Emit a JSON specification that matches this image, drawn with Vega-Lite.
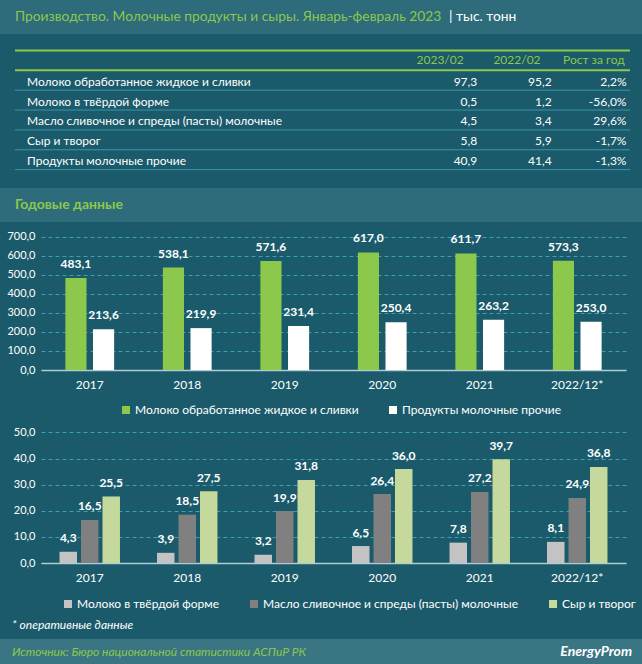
{
  "$schema": "https://vega.github.io/schema/vega-lite/v6.json",
  "background": "#1b5a6a",
  "padding": 0,
  "spacing": 0,
  "resolve": {"scale": {"color": "independent", "xOffset": "independent", "x": "independent", "y": "independent"}, "legend": {"color": "independent"}},
  "config": {
    "font": "Lato, 'Liberation Sans', sans-serif",
    "view": {"stroke": null},
    "locale": {"number": {"decimal": ",", "thousands": " ", "grouping": [3], "currency": ["", ""], "minus": "-"}},
    "axis": {"labelColor": "#ffffff", "title": null}
  },
  "datasets": {
    "table": [
      {"product": "Молоко обработанное жидкое и сливки", "v2023": 97.3, "v2022": 95.2, "growth": 0.022},
      {"product": "Молоко в твёрдой форме", "v2023": 0.5, "v2022": 1.2, "growth": -0.56},
      {"product": "Масло сливочное и спреды (пасты) молочные", "v2023": 4.5, "v2022": 3.4, "growth": 0.296},
      {"product": "Сыр и творог", "v2023": 5.8, "v2022": 5.9, "growth": -0.017},
      {"product": "Продукты молочные прочие", "v2023": 40.9, "v2022": 41.4, "growth": -0.013}
    ],
    "annual1": [
      {"year": "2017", "product": "Молоко обработанное жидкое и сливки", "value": 483.1},
      {"year": "2017", "product": "Продукты молочные прочие", "value": 213.6},
      {"year": "2018", "product": "Молоко обработанное жидкое и сливки", "value": 538.1},
      {"year": "2018", "product": "Продукты молочные прочие", "value": 219.9},
      {"year": "2019", "product": "Молоко обработанное жидкое и сливки", "value": 571.6},
      {"year": "2019", "product": "Продукты молочные прочие", "value": 231.4},
      {"year": "2020", "product": "Молоко обработанное жидкое и сливки", "value": 617.0},
      {"year": "2020", "product": "Продукты молочные прочие", "value": 250.4},
      {"year": "2021", "product": "Молоко обработанное жидкое и сливки", "value": 611.7},
      {"year": "2021", "product": "Продукты молочные прочие", "value": 263.2},
      {"year": "2022/12*", "product": "Молоко обработанное жидкое и сливки", "value": 573.3},
      {"year": "2022/12*", "product": "Продукты молочные прочие", "value": 253.0}
    ],
    "annual2": [
      {"year": "2017", "product": "Молоко в твёрдой форме", "value": 4.3},
      {"year": "2017", "product": "Масло сливочное и спреды (пасты) молочные", "value": 16.5},
      {"year": "2017", "product": "Сыр и творог", "value": 25.5},
      {"year": "2018", "product": "Молоко в твёрдой форме", "value": 3.9},
      {"year": "2018", "product": "Масло сливочное и спреды (пасты) молочные", "value": 18.5},
      {"year": "2018", "product": "Сыр и творог", "value": 27.5},
      {"year": "2019", "product": "Молоко в твёрдой форме", "value": 3.2},
      {"year": "2019", "product": "Масло сливочное и спреды (пасты) молочные", "value": 19.9},
      {"year": "2019", "product": "Сыр и творог", "value": 31.8},
      {"year": "2020", "product": "Молоко в твёрдой форме", "value": 6.5},
      {"year": "2020", "product": "Масло сливочное и спреды (пасты) молочные", "value": 26.4},
      {"year": "2020", "product": "Сыр и творог", "value": 36.0},
      {"year": "2021", "product": "Молоко в твёрдой форме", "value": 7.8},
      {"year": "2021", "product": "Масло сливочное и спреды (пасты) молочные", "value": 27.2},
      {"year": "2021", "product": "Сыр и творог", "value": 39.7},
      {"year": "2022/12*", "product": "Молоко в твёрдой форме", "value": 8.1},
      {"year": "2022/12*", "product": "Масло сливочное и спреды (пасты) молочные", "value": 24.9},
      {"year": "2022/12*", "product": "Сыр и творог", "value": 36.8}
    ]
  },
  "vconcat": [
    {
      "width": 642, "height": 34,
      "view": {"fill": "#2e6b7b"},
      "data": {"values": [
        {"part": "title", "t": "Производство. Молочные продукты и сыры. Январь-февраль 2023"},
        {"part": "unit", "t": "| тыс. тонн"}
      ]},
      "mark": {"type": "text", "align": "left", "baseline": "middle", "fontSize": 13.8},
      "encoding": {
        "x": {"field": "part", "type": "nominal", "scale": {"type": "point", "domain": ["title", "unit"], "range": [15, 449], "padding": 0}, "axis": null},
        "color": {"field": "part", "type": "nominal", "scale": {"domain": ["title", "unit"], "range": ["#8cc84b", "#ffffff"]}, "legend": null},
        "text": {"field": "t"}
      }
    },
    {
      "width": 642, "height": 154,
      "data": {"name": "table"},
      "layer": [
        {
          "data": {"values": [{"h": "header"}]},
          "mark": {"type": "rule", "color": "#8cc84b", "strokeWidth": 2},
          "encoding": {
            "y": {"field": "h", "type": "nominal", "bandPosition": 0,
              "scale": {"type": "band", "domain": ["header", "Молоко обработанное жидкое и сливки", "Молоко в твёрдой форме", "Масло сливочное и спреды (пасты) молочные", "Сыр и творог", "Продукты молочные прочие"], "paddingInner": 0, "paddingOuter": 0.879, "align": 0.473},
              "axis": null},
            "x": {"datum": "label", "type": "nominal", "bandPosition": 0,
              "scale": {"type": "band", "domain": ["label", "a", "b", "c", "d", "2023/02", "2022/02", "growth"], "range": [15, 630], "paddingInner": 0, "paddingOuter": 0}, "axis": null},
            "x2": {"datum": "growth", "bandPosition": 1}
          }
        },
        {
          "data": {"values": [{"h": "header"}]},
          "mark": {"type": "rule", "color": "#8cc84b", "strokeWidth": 2},
          "encoding": {
            "y": {"field": "h", "type": "nominal", "bandPosition": 1, "axis": null},
            "x": {"datum": "label", "type": "nominal", "bandPosition": 0, "axis": null},
            "x2": {"datum": "growth", "bandPosition": 1}
          }
        },
        {
          "mark": {"type": "rule", "color": "#3a96a7", "strokeWidth": 1},
          "encoding": {
            "y": {"field": "product", "type": "nominal", "bandPosition": 1, "axis": null},
            "x": {"datum": "label", "type": "nominal", "bandPosition": 0, "axis": null},
            "x2": {"datum": "growth", "bandPosition": 1}
          }
        },
        {
          "mark": {"type": "text", "align": "left", "baseline": "middle", "fontSize": 12, "color": "#ffffff", "dx": 12, "dy": 1.5},
          "encoding": {
            "y": {"field": "product", "type": "nominal", "axis": null},
            "x": {"datum": "label", "type": "nominal", "bandPosition": 0, "axis": null},
            "text": {"field": "product"}
          }
        },
        {
          "mark": {"type": "text", "align": "right", "baseline": "middle", "fontSize": 12, "color": "#ffffff", "dx": 1, "dy": 1.5},
          "encoding": {
            "y": {"field": "product", "type": "nominal", "axis": null},
            "x": {"datum": "2023/02", "type": "nominal", "bandPosition": 1, "axis": null},
            "text": {"field": "v2023", "type": "quantitative", "format": ".1f"}
          }
        },
        {
          "mark": {"type": "text", "align": "right", "baseline": "middle", "fontSize": 12, "color": "#ffffff", "dx": -1.5, "dy": 1.5},
          "encoding": {
            "y": {"field": "product", "type": "nominal", "axis": null},
            "x": {"datum": "2022/02", "type": "nominal", "bandPosition": 1, "axis": null},
            "text": {"field": "v2022", "type": "quantitative", "format": ".1f"}
          }
        },
        {
          "mark": {"type": "text", "align": "right", "baseline": "middle", "fontSize": 12, "color": "#ffffff", "dx": -3.5, "dy": 1.5},
          "encoding": {
            "y": {"field": "product", "type": "nominal", "axis": null},
            "x": {"datum": "growth", "type": "nominal", "bandPosition": 1, "axis": null},
            "text": {"field": "growth", "type": "quantitative", "format": ".1%"}
          }
        },
        {
          "data": {"values": [
            {"h": "header", "c": "2023/02", "label": "2023/02"},
            {"h": "header", "c": "2022/02", "label": "2022/02"},
            {"h": "header", "c": "growth", "label": "Рост за год"}
          ]},
          "mark": {"type": "text", "align": "center", "baseline": "middle", "fontSize": 12, "color": "#8cc84b", "dx": 2.3},
          "encoding": {
            "y": {"field": "h", "type": "nominal", "axis": null},
            "x": {"field": "c", "type": "nominal", "bandPosition": 0.5, "axis": null},
            "text": {"field": "label"}
          }
        }
      ]
    },
    {
      "width": 642, "height": 34,
      "view": {"fill": "#2e6b7b"},
      "data": {"values": [{"t": "Годовые данные"}]},
      "mark": {"type": "text", "align": "left", "baseline": "middle", "fontSize": 14, "fontWeight": "bold", "color": "#8cc84b"},
      "encoding": {
        "x": {"field": "t", "type": "nominal", "scale": {"type": "point", "range": [15, 15], "padding": 0}, "axis": null},
        "text": {"field": "t"}
      }
    },
    {
      "width": 626, "height": 148,
      "data": {"name": "annual1"},
      "encoding": {
        "x": {"field": "year", "type": "nominal", "sort": null, "scale": {"range": [41, 626], "paddingInner": 0.5, "paddingOuter": 0.25},
          "axis": {"labelAngle": 0, "labelFontSize": 12, "labelPadding": 9, "ticks": false, "domain": true, "domainColor": "#b0ccd4", "domainWidth": 1.5, "title": null, "labelColor": "#ffffff"}},
        "xOffset": {"field": "product", "type": "nominal", "scale": {"domain": ["Молоко обработанное жидкое и сливки", "Продукты молочные прочие"], "paddingInner": 0.235, "paddingOuter": 0}},
        "y": {"field": "value", "type": "quantitative", "scale": {"domain": [0, 777], "nice": false},
          "axis": {"values": [0, 100, 200, 300, 400, 500, 600, 700], "format": ".1f", "grid": true, "gridColor": "#3a9fb0", "gridDash": [4, 3], "domain": false, "ticks": false, "labelPadding": -35, "labelFontSize": 11, "labelColor": "#ffffff", "minExtent": 0, "maxExtent": 0, "title": null}}
      },
      "layer": [
        {
          "mark": {"type": "bar"},
          "encoding": {
            "color": {"field": "product", "type": "nominal", "scale": {"domain": ["Молоко обработанное жидкое и сливки", "Продукты молочные прочие"], "range": ["#8cc84b", "#ffffff"]},
              "legend": {"orient": "none", "legendX": 120, "legendY": 182, "direction": "horizontal", "title": null, "symbolType": "square", "symbolSize": 64, "symbolStrokeWidth": 0, "labelColor": "#ffffff", "labelFontSize": 12, "labelLimit": 400, "columnPadding": 28, "labelOffset": 3}}
          }
        },
        {
          "mark": {"type": "text", "baseline": "middle", "dy": -14, "fontSize": 12, "fontWeight": "bold", "color": "#ffffff"},
          "encoding": {"text": {"field": "value", "type": "quantitative", "format": ".1f"}}
        }
      ]
    },
    {
      "width": 626, "height": 147,
      "data": {"name": "annual2"},
      "encoding": {
        "x": {"field": "year", "type": "nominal", "sort": null, "scale": {"range": [41, 626], "paddingInner": 0.38, "paddingOuter": 0.19},
          "axis": {"labelAngle": 0, "labelFontSize": 12, "labelPadding": 9, "ticks": false, "domain": true, "domainColor": "#b0ccd4", "domainWidth": 1.5, "title": null, "labelColor": "#ffffff"}},
        "xOffset": {"field": "product", "type": "nominal", "scale": {"domain": ["Молоко в твёрдой форме", "Масло сливочное и спреды (пасты) молочные", "Сыр и творог"], "paddingInner": 0.186, "paddingOuter": 0}},
        "y": {"field": "value", "type": "quantitative", "scale": {"domain": [0, 56.3], "nice": false},
          "axis": {"values": [0, 10, 20, 30, 40, 50], "format": ".1f", "grid": true, "gridColor": "#3a9fb0", "gridDash": [4, 3], "domain": false, "ticks": false, "labelPadding": -35, "labelFontSize": 11, "labelColor": "#ffffff", "minExtent": 0, "maxExtent": 0, "title": null}}
      },
      "layer": [
        {
          "mark": {"type": "bar"},
          "encoding": {
            "color": {"field": "product", "type": "nominal", "scale": {"domain": ["Молоко в твёрдой форме", "Масло сливочное и спреды (пасты) молочные", "Сыр и творог"], "range": ["#c3c3c3", "#808080", "#c4d99b"]},
              "legend": {"orient": "none", "legendX": 62, "legendY": 182, "direction": "horizontal", "title": null, "symbolType": "square", "symbolSize": 64, "symbolStrokeWidth": 0, "labelColor": "#ffffff", "labelFontSize": 12, "labelLimit": 400, "columnPadding": 28, "labelOffset": 3}}
          }
        },
        {
          "mark": {"type": "text", "baseline": "middle", "dy": -13.5, "fontSize": 12, "fontWeight": "bold", "color": "#ffffff"},
          "encoding": {"text": {"field": "value", "type": "quantitative", "format": ".1f"}}
        }
      ]
    },
    {
      "width": 642, "height": 28.5,
      "data": {"values": [{"t": "* оперативные данные"}]},
      "mark": {"type": "text", "align": "left", "baseline": "middle", "fontSize": 12, "fontStyle": "italic", "color": "#ffffff", "dy": 1},
      "encoding": {
        "x": {"field": "t", "type": "nominal", "scale": {"type": "point", "range": [12, 12], "padding": 0}, "axis": null},
        "text": {"field": "t"}
      }
    },
    {
      "width": 642, "height": 25,
      "view": {"fill": "#3a7584"},
      "data": {"values": [
        {"part": "src", "t": "Источник: Бюро национальной статистики АСПиР РК"},
        {"part": "logo", "t": "EnergyProm"}
      ]},
      "encoding": {
        "x": {"field": "part", "type": "nominal", "scale": {"type": "point", "domain": ["src", "logo"], "range": [12, 632], "padding": 0}, "axis": null},
        "text": {"field": "t"}
      },
      "layer": [
        {
          "transform": [{"filter": "datum.part === 'src'"}],
          "mark": {"type": "text", "align": "left", "baseline": "middle", "fontSize": 12, "fontStyle": "italic", "color": "#8cc84b"}
        },
        {
          "transform": [{"filter": "datum.part === 'logo'"}],
          "mark": {"type": "text", "align": "right", "baseline": "middle", "fontSize": 14, "fontStyle": "italic", "fontWeight": "bold", "color": "#ffffff"}
        }
      ]
    }
  ]
}
